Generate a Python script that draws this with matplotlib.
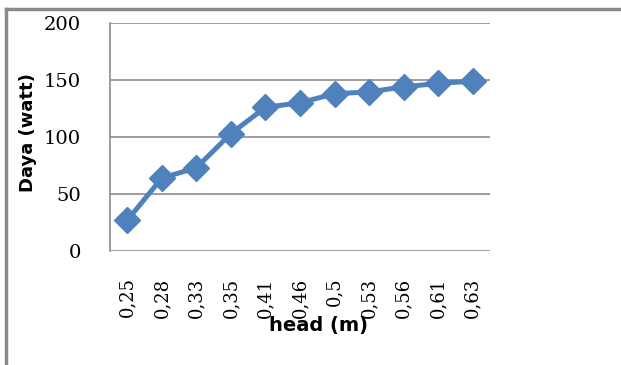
import matplotlib.pyplot as plt
from matplotlib.lines import Line2D

head = ['0,25', '0,28', '0,33', '0,35', '0,41', '0,46', '0,5', '0,53', '0,56', '0,61', '0,63']
daya = [27, 64, 73, 103, 126, 130, 138, 139.5, 144, 147, 149]
y_ticks = [0, 50, 100, 150, 200]

fig = plt.figure(figsize=(6.21, 3.65), dpi=100)
ax = fig.add_axes([110 / 621, 1 - 251 / 365, 380 / 621, 228 / 365])

x = list(range(len(head)))
ax.plot(x, daya, color='#4F81BD', lw=3.6, marker='D', markersize=13,
        markeredgecolor='#4F81BD', solid_joinstyle='round')

ax.set_xlim(-0.5, len(head) - 0.5)
ax.set_ylim(0, 200)
ax.set_yticks(y_ticks)
ax.set_xticks(x)
ax.set_xticklabels(head, rotation=90, fontsize=13, family='DejaVu Serif')
ax.set_yticklabels([str(v) for v in y_ticks], fontsize=14, family='DejaVu Serif')
ax.tick_params(length=0)
ax.tick_params(axis='y', pad=21)
ax.tick_params(axis='x', pad=19)

ax.grid(axis='y', color='#8c8c8c', lw=1.2)
ax.set_axisbelow(True)
for s in ['top', 'right', 'bottom']:
    ax.spines[s].set_visible(False)
ax.spines['left'].set_color('#8c8c8c')
ax.spines['left'].set_linewidth(1.2)

fig.text(28 / 621, 1 - 133 / 365, 'Daya (watt)', rotation=90, ha='center', va='center',
         fontsize=13, fontweight='bold', family='DejaVu Sans')
fig.text(318 / 621, 1 - 326 / 365, 'head (m)', ha='center', va='center',
         fontsize=14, fontweight='bold', family='DejaVu Sans')

# outer frame, only top and left edges
fig.add_artist(Line2D([6 / 621, 1], [1 - 9 / 365, 1 - 9 / 365], color='#8a8a8a', lw=2.5))
fig.add_artist(Line2D([6 / 621, 6 / 621], [0, 1 - 9 / 365], color='#8a8a8a', lw=2.5))

fig.savefig('out.png', dpi=100)
